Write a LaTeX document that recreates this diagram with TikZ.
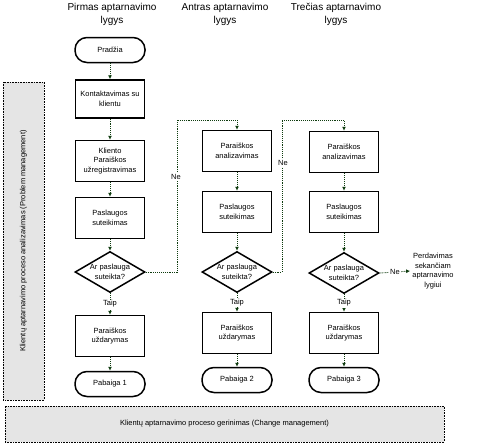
\documentclass[tikz,border=0pt]{standalone}
\usepackage{fontspec}
\setmainfont{Liberation Sans}
\usetikzlibrary{shapes.geometric,arrows.meta}
\definecolor{conncol}{RGB}{15,60,15}
\definecolor{panelgray}{RGB}{229,229,229}
\begin{document}
\begin{tikzpicture}[x=1pt,y=-1pt,
  txt/.style={font=\fontsize{7.5}{9.5}\selectfont},
  box/.style={txt,draw,line width=1.5pt,fill=white,minimum width=69pt,minimum height=41pt,inner sep=1pt,align=center},
  term/.style={txt,draw,line width=1.5pt,fill=white,rounded corners=12pt,minimum width=70pt,minimum height=25pt,inner sep=1pt},
  dec/.style={txt,draw,diamond,aspect=1.7,line width=1.5pt,fill=white,minimum width=70pt,minimum height=41pt,inner sep=0pt,align=center},
  conn/.style={draw=conncol,densely dotted,line width=0.9pt,-{Latex[length=4pt,width=4pt]}},
  lbl/.style={txt,fill=white,inner sep=1pt},
  hdr/.style={font=\fontsize{10}{13}\selectfont,align=center},
  note/.style={txt,align=center,inner sep=2pt},
  panel/.style={txt,draw,densely dotted,line width=0.6pt,fill=panelgray,inner sep=0pt}
]
\useasboundingbox (0,0) rectangle (480,445);

% panels
\node[panel,rotate=90,minimum width=318pt,minimum height=41pt] (pm) at (23.5,241) {Klientų aptarnavimo proceso analizavimas (Problem management)};
\node[panel,minimum width=439pt,minimum height=36pt] (cm) at (224.5,424) {Klientų aptarnavimo proceso gerinimas (Change management)};

% headers
\node[hdr] (h1) at (112,14) {Pirmas aptarnavimo\\lygys};
\node[hdr] (h2) at (225,14) {Antras aptarnavimo\\lygys};
\node[hdr] (h3) at (336,14) {Trečias aptarnavimo\\lygys};

% column 1
\node[term] (s) at (110,50) {Pradžia};
\node[box,minimum height=38pt] (k1) at (110,99) {Kontaktavimas su\\klientu};
\node[box] (k2) at (110,161) {Kliento\\Paraiškos\\užregistravimas};
\node[box] (k3) at (110,218) {Paslaugos\\suteikimas};
\node[dec] (d1) at (110,272) {Ar paslauga\\suteikta?};
\node[box] (u1) at (110,336) {Paraiškos\\uždarymas};
\node[term] (e1) at (110,384) {Pabaiga 1};

% column 2
\node[box] (a2) at (237,151) {Paraiškos\\analizavimas};
\node[box] (p2) at (237,212) {Paslaugos\\suteikimas};
\node[dec] (d2) at (237,272) {Ar paslauga\\suteikta?};
\node[box] (u2) at (237,333) {Paraiškos\\uždarymas};
\node[term] (e2) at (237,380) {Pabaiga 2};

% column 3
\node[box] (a3) at (344,152) {Paraiškos\\analizavimas};
\node[box] (p3) at (344,212) {Paslaugos\\suteikimas};
\node[dec] (d3) at (344,273) {Ar paslauga\\suteikta?};
\node[box] (u3) at (344,333) {Paraiškos\\uždarymas};
\node[term] (e3) at (344,380) {Pabaiga 3};

\node[note] (tr) at (433,271) {Perdavimas\\sekančiam\\aptarnavimo\\lygiui};

% connectors column 1
\draw[conn] (s) -- (k1);
\draw[conn] (k1) -- (k2);
\draw[conn] (k2) -- (k3);
\draw[conn] (k3) -- (d1);
\draw[conn] (d1) -- node[lbl] {Taip} (u1);
\draw[conn] (u1) -- (e1);

% connectors column 2
\draw[conn] (a2) -- (p2);
\draw[conn] (p2) -- (d2);
\draw[conn] (d2) -- node[lbl] {Taip} (u2);
\draw[conn] (u2) -- (e2);

% connectors column 3
\draw[conn] (a3) -- (p3);
\draw[conn] (p3) -- (d3);
\draw[conn] (d3) -- node[lbl] {Taip} (u3);
\draw[conn] (u3) -- (e3);
\draw[conn] (d3.east) -- node[lbl] {Ne} (tr.west);

% loop-backs
\coordinate (n1) at (177,120);
\coordinate (n2) at (282,120);
\draw[conn] (d1.east) -| (n1) -| (a2.north);
\draw[conn] (d2.east) -| (n2) -| (a3.north);
\node[lbl] (ne1) at (176,177) {Ne};
\node[lbl] (ne2) at (283,163) {Ne};
\end{tikzpicture}
\end{document}
